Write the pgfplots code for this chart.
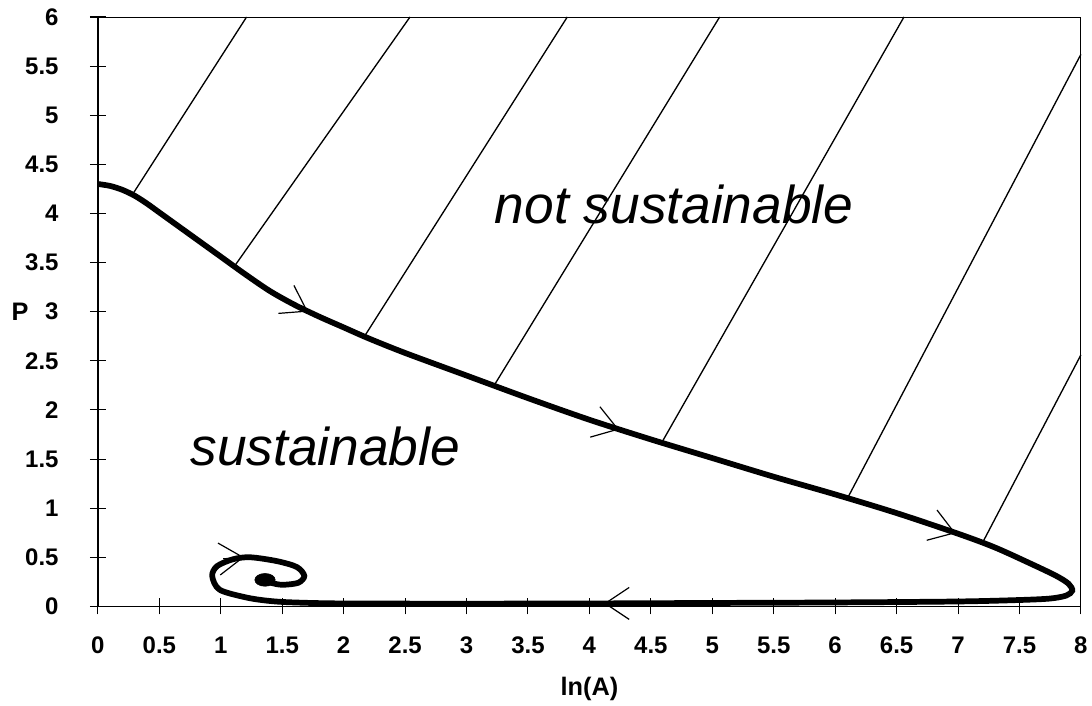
\documentclass[border=0pt]{standalone}
\usepackage{fontspec}
\setmainfont{Liberation Sans}
\usepackage{pgfplots}
\pgfplotsset{compat=1.18}
\usetikzlibrary{arrows.meta}
\begin{document}
\begin{tikzpicture}
\begin{axis}[
 width=738pt, height=442.5pt, scale only axis,
 xmin=0, xmax=8, ymin=0, ymax=6,
 xtick={0,0.5,1,1.5,2,2.5,3,3.5,4,4.5,5,5.5,6,6.5,7,7.5,8},
 ytick={0,0.5,1,1.5,2,2.5,3,3.5,4,4.5,5,5.5,6},
 tick align=center, xtick pos=left, ytick pos=left,
 major tick length=12pt,
 tick style={black, line width=0.8pt},
 axis line style={line width=0.7pt},
 /pgf/number format/assume math mode=true,
 tick label style={font=\bfseries\fontsize{18}{21}\selectfont},
 xticklabel style={anchor=north, text height=13pt, text depth=0pt},
 xticklabel shift=12.5pt,
 yticklabel style={xshift=-20pt},
 clip=false,
]
% boundary curve and trajectory
\addplot[black, line width=4.3pt, smooth, tension=0.5] coordinates {
(0,4.30) (0.1,4.28) (0.2,4.24) (0.3,4.18) (0.4,4.10) (0.5,4.01) (0.6,3.92)
(0.7,3.83) (0.8,3.74) (0.9,3.65) (1.0,3.56) (1.2,3.38) (1.4,3.21) (1.6,3.07)
(1.8,2.95) (2.0,2.84) (2.2,2.73) (2.5,2.58) (3.0,2.35) (3.5,2.12) (4.0,1.90)
(4.5,1.70) (5.0,1.51) (5.5,1.32) (6.0,1.14) (6.5,0.95) (7.0,0.74) (7.3,0.60)
(7.6,0.43) (7.8,0.31) (7.9,0.23) (7.93,0.16) (7.88,0.11) (7.75,0.08) (7.5,0.065)
(7.0,0.05) (6.0,0.04) (5.0,0.035) (4.0,0.03) (3.0,0.028) (2.0,0.03) (1.6,0.04)
(1.4,0.055) (1.21,0.09) (0.99,0.17) (0.93,0.31) (0.97,0.41) (1.10,0.48) (1.24,0.50)
(1.46,0.46) (1.62,0.40) (1.68,0.31) (1.63,0.24) (1.50,0.22) (1.41,0.24) (1.36,0.27)
};
\addplot[black, only marks, mark=*, mark size=4.8pt, mark options={xscale=1.6}] coordinates {(1.36,0.27)};
% hatch lines
\addplot[black, line width=1pt] coordinates {(0.28,4.19) (1.21,6)};
\addplot[black, line width=1pt] coordinates {(1.11,3.46) (2.54,6)};
\addplot[black, line width=1pt] coordinates {(2.17,2.75) (3.82,6)};
\addplot[black, line width=1pt] coordinates {(3.22,2.24) (5.06,6)};
\addplot[black, line width=1pt] coordinates {(4.59,1.67) (6.56,6)};
\addplot[black, line width=1pt] coordinates {(6.10,1.10) (8,5.62)};
\addplot[black, line width=1pt] coordinates {(7.20,0.65) (8,2.56)};
% arrows
\addplot[black, line width=0.8pt, -{Straight Barb[length=18pt,width=24pt,line width=0.9pt]}] coordinates {(1.51,3.14) (1.71,3.00)};
\addplot[black, line width=0.8pt, -{Straight Barb[length=18pt,width=24pt,line width=0.9pt]}] coordinates {(4.04,1.88) (4.24,1.80)};
\addplot[black, line width=0.8pt, -{Straight Barb[length=18pt,width=24pt,line width=0.9pt]}] coordinates {(6.78,0.83) (6.98,0.745)};
\addplot[black, line width=0.8pt, -{Straight Barb[length=18pt,width=24pt,line width=0.9pt]}] coordinates {(4.32,0.03) (4.12,0.03)};
\addplot[black, line width=0.8pt, -{Straight Barb[length=18pt,width=24pt,line width=0.9pt]}] coordinates {(1.02,0.485) (1.19,0.50)};
% left and bottom axis lines thicker
\draw[black, line width=1.3pt] (rel axis cs:0,1) -- (rel axis cs:0,0) -- (rel axis cs:1,0);
% texts
\node at (axis cs:4.69,4.09) {\itshape\fontsize{40}{48}\selectfont not sustainable};
\node at (axis cs:1.85,1.63) {\itshape\fontsize{40}{48}\selectfont sustainable};
\node at (rel axis cs:0,0.5) [xshift=-58.5pt] {\bfseries\fontsize{19}{22}\selectfont P};
\node at (rel axis cs:0.5,0) [yshift=-62pt] {\bfseries\fontsize{19}{22}\selectfont ln(A)};
\end{axis}
\path (-73.5pt,-72.75pt) rectangle (745.5pt,455.25pt);
\end{tikzpicture}
\end{document}
